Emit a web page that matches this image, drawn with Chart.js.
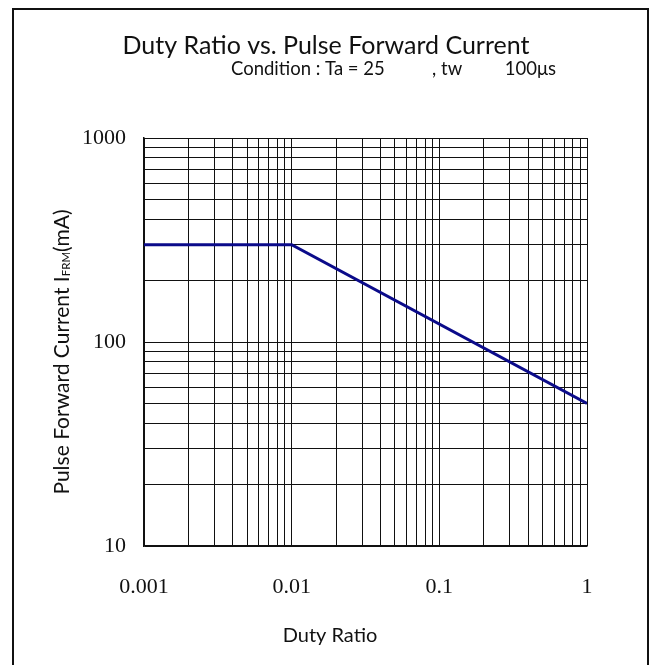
<!DOCTYPE html>
<html>
<head>
<meta charset="utf-8">
<script src="https://cdn.jsdelivr.net/npm/chart.js@4"></script>
<style>
  body { margin: 0; background: #fff; }
</style>
</head>
<body>
<canvas id="myChart" width="653" height="665"></canvas>
<script>
// curve
const dutyRatio = [0.001, 0.01, 1];
const pulseCurrent = [300, 300, 50];

// grid lines and labels
const xGrid = [0.001, 0.002, 0.003, 0.004, 0.005, 0.006, 0.007, 0.008, 0.009,
  0.01, 0.02, 0.03, 0.04, 0.05, 0.06, 0.07, 0.08, 0.09,
  0.1, 0.2, 0.3, 0.4, 0.5, 0.6, 0.7, 0.8, 0.9, 1];
const yGrid = [10, 20, 30, 40, 50, 60, 70, 80, 90,
  100, 200, 300, 400, 500, 600, 700, 800, 900, 1000];
const xLabels = [0.001, 0.01, 0.1, 1];
const yLabels = [10, 100, 1000];

const chartTitle = 'Duty Ratio vs. Pulse Forward Current';
const chartCondition = 'Condition : Ta = 25          , tw         100\u03bcs';
const xTitle = 'Duty Ratio';

const sans = 'Lato, "Open Sans", sans-serif';

const textPlugin = {
  id: 'texts',
  beforeDraw(chart) {
    const c = chart.ctx;
    c.save();
    c.fillStyle = '#fff';
    c.fillRect(0, 0, chart.width, chart.height);
    // outer frame
    c.strokeStyle = '#111';
    c.lineWidth = 2;
    c.strokeRect(13, 9, 635, 700);
    c.restore();
  },
  afterDraw(chart) {
    const c = chart.ctx;
    c.save();
    c.fillStyle = '#111';
    c.textBaseline = 'middle';
    c.textAlign = 'center';
    c.font = '25px ' + sans;
    c.fillText(chartTitle, 326, 46);
    c.font = '18.5px ' + sans;
    c.textAlign = 'left';
    c.fillText(chartCondition, 231, 69);
    c.textAlign = 'center';
    c.font = '20px ' + sans;
    c.fillText(xTitle, 330, 636);

    // y title with subscript
    c.translate(62, 352);
    c.rotate(-Math.PI / 2);
    const p1 = 'Pulse Forward Current I';
    const sub = 'FRM';
    const p2 = '(mA)';
    const big = '21px ' + sans, small = '11.5px ' + sans;
    c.font = big; const w1 = c.measureText(p1).width; const w3 = c.measureText(p2).width;
    c.font = small; const w2 = c.measureText(sub).width;
    let x = -(w1 + w2 + w3) / 2;
    c.textAlign = 'left';
    c.font = big; c.fillText(p1, x, 0); x += w1;
    c.font = small; c.fillText(sub, x, 4); x += w2;
    c.font = big; c.fillText(p2, x, 0);
    c.restore();
  }
};

const ctx = document.getElementById('myChart').getContext('2d');

const dutyChart = new Chart(ctx, {
  type: 'scatter',
  data: {
    datasets: [{
      label: 'IFRM',
      data: dutyRatio.map((d, i) => ({ x: d, y: pulseCurrent[i] })),
      showLine: true,
      borderColor: '#0b0b8a',
      borderWidth: 3,
      pointRadius: 0,
      tension: 0
    }]
  },
  options: {
    responsive: false,
    animation: false,
    layout: { padding: { left: 0, top: 138, right: 66, bottom: 0 } },
    plugins: {
      legend: { display: false },
      tooltip: { enabled: false }
    },
    scales: {
      x: {
        type: 'logarithmic',
        min: 0.001,
        max: 1,
        afterBuildTicks: s => { s.ticks = xGrid.map(v => ({ value: v })); },
        afterFit: s => { s.height = 119; },
        grid: { color: '#111', lineWidth: 1, drawTicks: false },
        border: { color: '#111', width: 1.5 },
        ticks: {
          autoSkip: false,
          maxRotation: 0,
          padding: 28,
          color: '#111',
          font: { family: '"Liberation Serif", serif', size: 22 },
          callback: v => xLabels.includes(v) ? String(v) : ''
        }
      },
      y: {
        type: 'logarithmic',
        min: 10,
        max: 1000,
        afterBuildTicks: s => { s.ticks = yGrid.map(v => ({ value: v })); },
        afterFit: s => { s.width = 144; },
        grid: { color: '#111', lineWidth: 1, drawTicks: false },
        border: { color: '#111', width: 1.5 },
        ticks: {
          autoSkip: false,
          padding: 18,
          color: '#111',
          font: { family: '"Liberation Serif", serif', size: 22 },
          callback: v => yLabels.includes(v) ? String(v) : ''
        }
      }
    }
  },
  plugins: [textPlugin]
});
</script>
</body>
</html>
